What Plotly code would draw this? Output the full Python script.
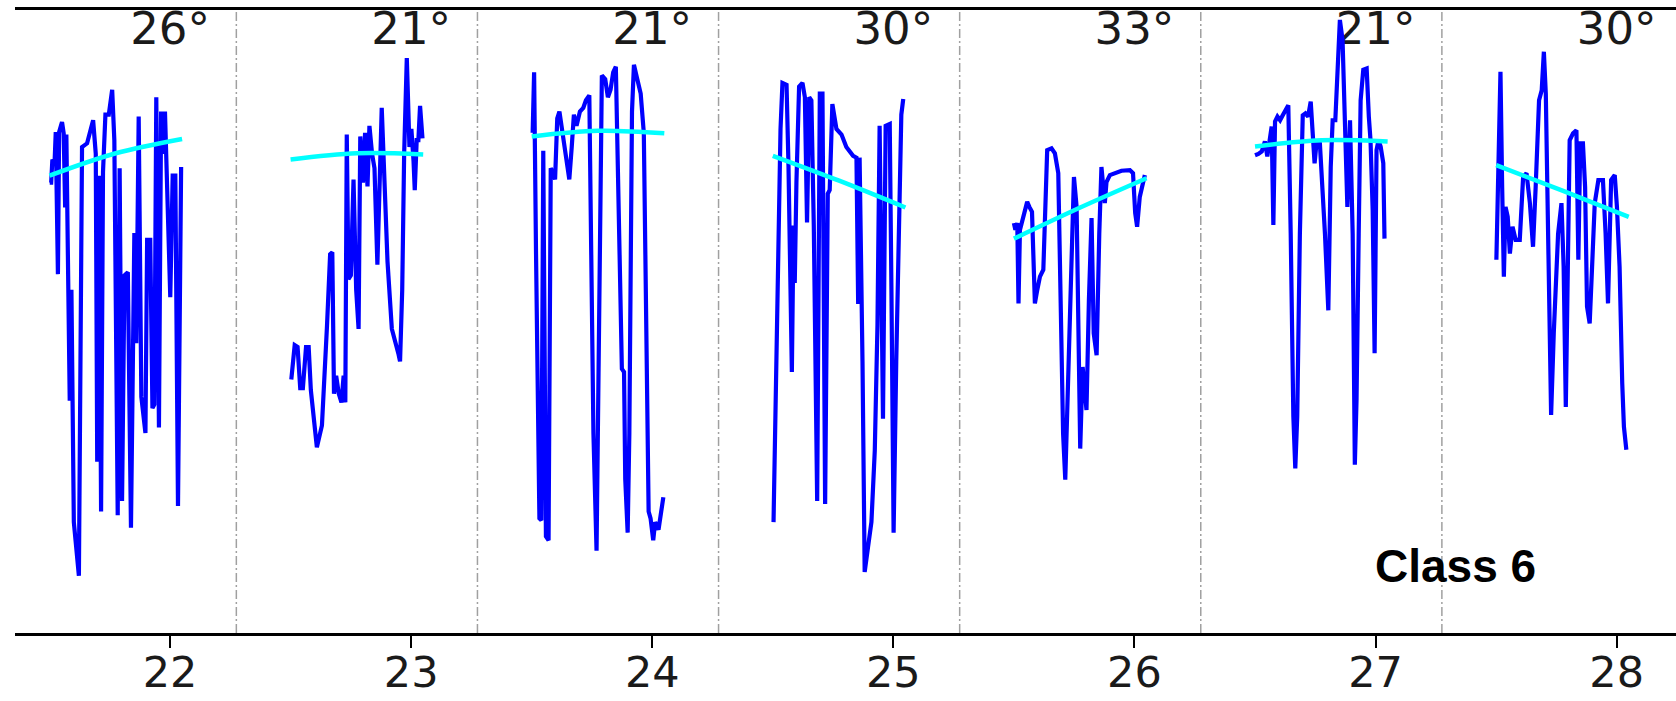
import plotly.graph_objects as go

# ---------------- data ----------------
centers = [22, 23, 24, 25, 26, 27, 28]
angle_labels = ["26°", "21°", "21°", "30°", "33°", "21°", "30°"]
tick_vals = [22, 23, 24, 25, 26, 27, 28]
tick_text = ["22", "23", "24", "25", "26", "27", "28"]
class_label = "Class 6"

# time offset within each window (x = center - 0.5 + t) and signal value
seg1_t = [0.001, 0.007, 0.012, 0.021, 0.026, 0.035, 0.040, 0.052, 0.059, 0.065, 0.070, 0.077, 0.084, 0.091,
          0.101, 0.122, 0.135, 0.156, 0.181, 0.192, 0.198, 0.206, 0.214, 0.222, 0.232, 0.246, 0.260, 0.269,
          0.283, 0.291, 0.301, 0.311, 0.325, 0.338, 0.352, 0.360, 0.370, 0.381, 0.398, 0.405, 0.418, 0.427,
          0.435, 0.443, 0.454, 0.463, 0.471, 0.479, 0.488, 0.501, 0.511, 0.522, 0.533, 0.546]
seg1_y = [72.3, 72.3, 76.0, 75.4, 80.4, 57.6, 80.4, 82.0, 80.2, 68.3, 80.0, 55.1, 37.3, 55.1,
          17.8, 9.2, 78.0, 78.6, 82.3, 76.9, 27.5, 73.4, 19.5, 74.0, 83.2, 83.2, 87.2, 79.1,
          18.9, 74.6, 21.2, 57.4, 57.9, 16.9, 64.2, 46.5, 82.9, 37.9, 32.1, 63.1, 63.1, 36.1,
          36.7, 86.0, 33.0, 83.7, 76.9, 83.7, 73.4, 53.9, 73.4, 73.4, 20.4, 74.8]

seg2_t = [0.003, 0.017, 0.029, 0.040, 0.051, 0.064, 0.075, 0.084, 0.109, 0.130, 0.151, 0.164, 0.173, 0.180,
          0.189, 0.200, 0.211, 0.220, 0.227, 0.233, 0.240, 0.250, 0.261, 0.272, 0.282, 0.289, 0.300, 0.309,
          0.319, 0.327, 0.338, 0.348, 0.360, 0.369, 0.378, 0.388, 0.402, 0.420, 0.438, 0.448, 0.454, 0.463,
          0.471, 0.482, 0.493, 0.501, 0.510, 0.515, 0.523, 0.530, 0.537, 0.547]
seg2_y = [40.7, 46.2, 45.9, 39.3, 39.3, 45.9, 45.9, 39.0, 29.8, 33.3, 49.3, 60.8, 61.1, 38.4,
          41.3, 38.4, 37.0, 41.3, 37.0, 80.0, 56.8, 57.4, 72.8, 55.1, 48.8, 79.7, 72.3, 80.3,
          71.7, 81.4, 76.9, 74.6, 59.1, 74.6, 84.3, 74.0, 59.6, 48.8, 46.5, 44.7, 43.6, 55.1,
          76.9, 92.3, 78.0, 80.9, 75.7, 71.1, 79.1, 79.1, 84.6, 79.4]

seg3_t = [0.004, 0.010, 0.018, 0.032, 0.040, 0.048, 0.059, 0.070, 0.079, 0.087, 0.097, 0.106, 0.115, 0.131,
          0.142, 0.156, 0.166, 0.175, 0.186, 0.200, 0.214, 0.225, 0.239, 0.256, 0.269, 0.280, 0.291, 0.305,
          0.316, 0.327, 0.338, 0.349, 0.360, 0.374, 0.383, 0.388, 0.398, 0.405, 0.416, 0.424, 0.438, 0.452,
          0.465, 0.474, 0.485, 0.493, 0.504, 0.512, 0.526, 0.546]
seg3_y = [80.3, 90.0, 60.8, 18.4, 18.1, 77.4, 15.5, 14.9, 74.6, 74.0, 72.8, 82.6, 83.7, 79.1,
          76.3, 72.8, 78.0, 83.2, 81.4, 83.7, 84.3, 85.5, 86.3, 32.1, 13.2, 49.3, 89.5, 88.9,
          86.0, 87.2, 90.0, 90.9, 72.3, 42.4, 41.9, 24.7, 16.1, 32.1, 83.7, 91.2, 88.9, 86.6,
          80.3, 49.3, 19.5, 18.4, 14.9, 17.8, 16.6, 21.8]

seg4_t = [0.003, 0.010, 0.021, 0.032, 0.040, 0.057, 0.065, 0.073, 0.079, 0.086, 0.091, 0.098, 0.109, 0.123,
          0.133, 0.142, 0.151, 0.160, 0.170, 0.184, 0.195, 0.206, 0.217, 0.228, 0.236, 0.247, 0.264, 0.285,
          0.305, 0.333, 0.347, 0.354, 0.360, 0.372, 0.381, 0.395, 0.409, 0.423, 0.434, 0.443, 0.457, 0.468,
          0.485, 0.492, 0.501, 0.512, 0.523, 0.533, 0.541]
seg4_y = [17.8, 32.1, 60.8, 80.9, 88.3, 88.0, 75.1, 55.1, 41.9, 65.4, 56.2, 72.3, 87.7, 88.3,
          86.0, 65.9, 86.0, 85.5, 65.4, 21.2, 86.6, 86.6, 20.7, 70.5, 71.1, 84.9, 80.9, 80.0,
          78.0, 76.6, 76.3, 52.8, 76.3, 43.6, 9.8, 13.8, 17.8, 29.3, 49.3, 81.4, 34.4, 81.4,
          81.7, 55.1, 16.1, 43.6, 63.1, 83.2, 85.7]

seg5_t = [0.000, 0.006, 0.014, 0.019, 0.025, 0.039, 0.055, 0.064, 0.075, 0.080, 0.087, 0.097, 0.108, 0.122,
          0.133, 0.138, 0.156, 0.170, 0.184, 0.193, 0.204, 0.213, 0.222, 0.239, 0.249, 0.260, 0.269, 0.275,
          0.285, 0.301, 0.311, 0.322, 0.331, 0.343, 0.354, 0.363, 0.377, 0.384, 0.398, 0.418, 0.446, 0.481,
          0.494, 0.503, 0.511, 0.522, 0.543]
seg5_y = [65.8, 64.7, 65.8, 52.9, 64.7, 66.8, 69.2, 68.4, 67.6, 61.5, 52.9, 55.1, 57.2, 58.3,
          69.5, 77.5, 77.8, 77.0, 73.8, 53.4, 32.0, 24.6, 37.4, 64.1, 73.2, 68.4, 48.1, 29.6,
          42.7, 35.8, 53.4, 66.6, 48.1, 44.6, 64.1, 74.8, 69.0, 72.4, 73.5, 73.8, 74.2, 74.3,
          73.8, 67.4, 65.2, 70.0, 73.5]

seg6_t = [0.000, 0.014, 0.028, 0.041, 0.051, 0.059, 0.069, 0.076, 0.083, 0.093, 0.104, 0.115, 0.126, 0.138,
          0.148, 0.159, 0.167, 0.175, 0.186, 0.198, 0.209, 0.220, 0.231, 0.239, 0.247, 0.256, 0.269, 0.290,
          0.304, 0.314, 0.322, 0.333, 0.344, 0.352, 0.363, 0.374, 0.383, 0.394, 0.405, 0.414, 0.421, 0.430,
          0.438, 0.449, 0.463, 0.472, 0.479, 0.488, 0.496, 0.504, 0.512, 0.521, 0.532, 0.537]
seg6_y = [76.7, 76.9, 77.3, 78.9, 76.5, 79.1, 81.3, 65.5, 82.1, 82.9, 82.3, 83.1, 83.9, 84.7,
          64.1, 34.7, 26.4, 34.7, 64.1, 83.1, 83.4, 82.9, 85.3, 81.3, 75.4, 79.1, 78.6, 64.1,
          51.8, 74.8, 82.3, 82.3, 90.9, 98.4, 95.2, 82.9, 68.4, 82.3, 64.1, 27.0, 37.4, 64.1,
          85.5, 90.4, 90.6, 82.9, 79.1, 67.9, 44.9, 77.5, 79.1, 78.1, 75.4, 63.3]

seg7_t = [0.001, 0.008, 0.018, 0.025, 0.032, 0.039, 0.048, 0.057, 0.068, 0.081, 0.098, 0.112, 0.126, 0.140,
          0.153, 0.164, 0.178, 0.189, 0.198, 0.206, 0.214, 0.222, 0.228, 0.239, 0.257, 0.271, 0.280, 0.289,
          0.297, 0.305, 0.319, 0.333, 0.341, 0.349, 0.360, 0.369, 0.377, 0.388, 0.398, 0.409, 0.424, 0.443,
          0.454, 0.464, 0.477, 0.492, 0.501, 0.512, 0.523, 0.530, 0.540]
seg7_y = [59.9, 74.8, 90.1, 71.6, 57.2, 68.4, 66.8, 60.9, 65.2, 63.1, 63.1, 73.2, 73.8, 69.0,
          62.0, 71.6, 85.5, 87.1, 93.3, 86.6, 69.5, 48.1, 35.0, 48.1, 64.1, 69.0, 58.8, 36.3,
          64.1, 79.1, 80.2, 80.7, 59.9, 78.6, 78.6, 71.6, 52.4, 49.7, 58.8, 69.0, 72.7, 72.7,
          64.1, 52.9, 72.7, 73.5, 68.4, 58.8, 40.1, 33.1, 29.4]

# fitted trend (cyan) values at window start, middle and end
fit_start = [73.4, 76.0, 79.7, 76.6, 63.3, 78.1, 75.1]
fit_mid = [77.0, 77.0, 80.6, 72.6, 68.3, 79.1, 71.0]
fit_end = [79.3, 76.8, 80.2, 68.3, 73.0, 78.9, 66.8]
fit_t = [0.0, 0.275, 0.55]

divider_offset = 0.275   # window boundary after each center
window_start = 0.5       # window starts this far before its center

seg_t = [seg1_t, seg2_t, seg3_t, seg4_t, seg5_t, seg6_t, seg7_t]
seg_y = [seg1_y, seg2_y, seg3_y, seg4_y, seg5_y, seg6_y, seg7_y]

# ---------------- figure ----------------
fig = go.Figure()

# angle labels drawn first so the signal passes over them
fig.add_trace(go.Scatter(
    x=centers, y=[96.4] * len(centers), mode="text", text=angle_labels,
    textfont=dict(family="DejaVu Sans", size=45, color="#1a1a1a"),
    textposition="middle center", hoverinfo="skip", showlegend=False))

for c, ts, ys in zip(centers, seg_t, seg_y):
    fig.add_trace(go.Scatter(
        x=[c - window_start + t for t in ts], y=ys, mode="lines",
        line=dict(color="#0000ff", width=4.2), showlegend=False, hoverinfo="skip"))

for i, c in enumerate(centers):
    fig.add_trace(go.Scatter(
        x=[c - window_start + t for t in fit_t],
        y=[fit_start[i], fit_mid[i], fit_end[i]], mode="lines",
        line=dict(color="#00ffff", width=4.5, shape="spline"), showlegend=False, hoverinfo="skip"))

for c in centers[:-1]:
    fig.add_shape(type="line", xref="x", yref="paper", x0=c + divider_offset, x1=c + divider_offset,
                  y0=0, y1=1, line=dict(color="#a0a0a0", width=1.5, dash="9px,3px,2px,3px"), layer="below")

fig.add_annotation(x=27.33, y=10.7, xref="x", yref="y", text="<b>" + class_label + "</b>",
                   showarrow=False, font=dict(family="Liberation Sans", size=46, color="#000000"),
                   xanchor="center", yanchor="middle")

fig.update_layout(
    width=1676, height=701,
    margin=dict(l=15, r=0, t=10, b=68, autoexpand=False),
    paper_bgcolor="white", plot_bgcolor="white",
    xaxis=dict(range=[21.357, 28.246], tickvals=tick_vals, ticktext=tick_text, automargin=False,
               showgrid=False, zeroline=False, showline=True, linecolor="black", linewidth=2.5,
               mirror=True, ticks="outside", ticklen=12, tickwidth=2, tickcolor="black",
               ticklabelstandoff=-12,
               tickfont=dict(family="DejaVu Sans", size=43, color="#1a1a1a")),
    yaxis=dict(range=[0, 100], showgrid=False, zeroline=False, showline=False, automargin=False,
               showticklabels=False, ticks=""),
)

fig.write_html("out.html")
